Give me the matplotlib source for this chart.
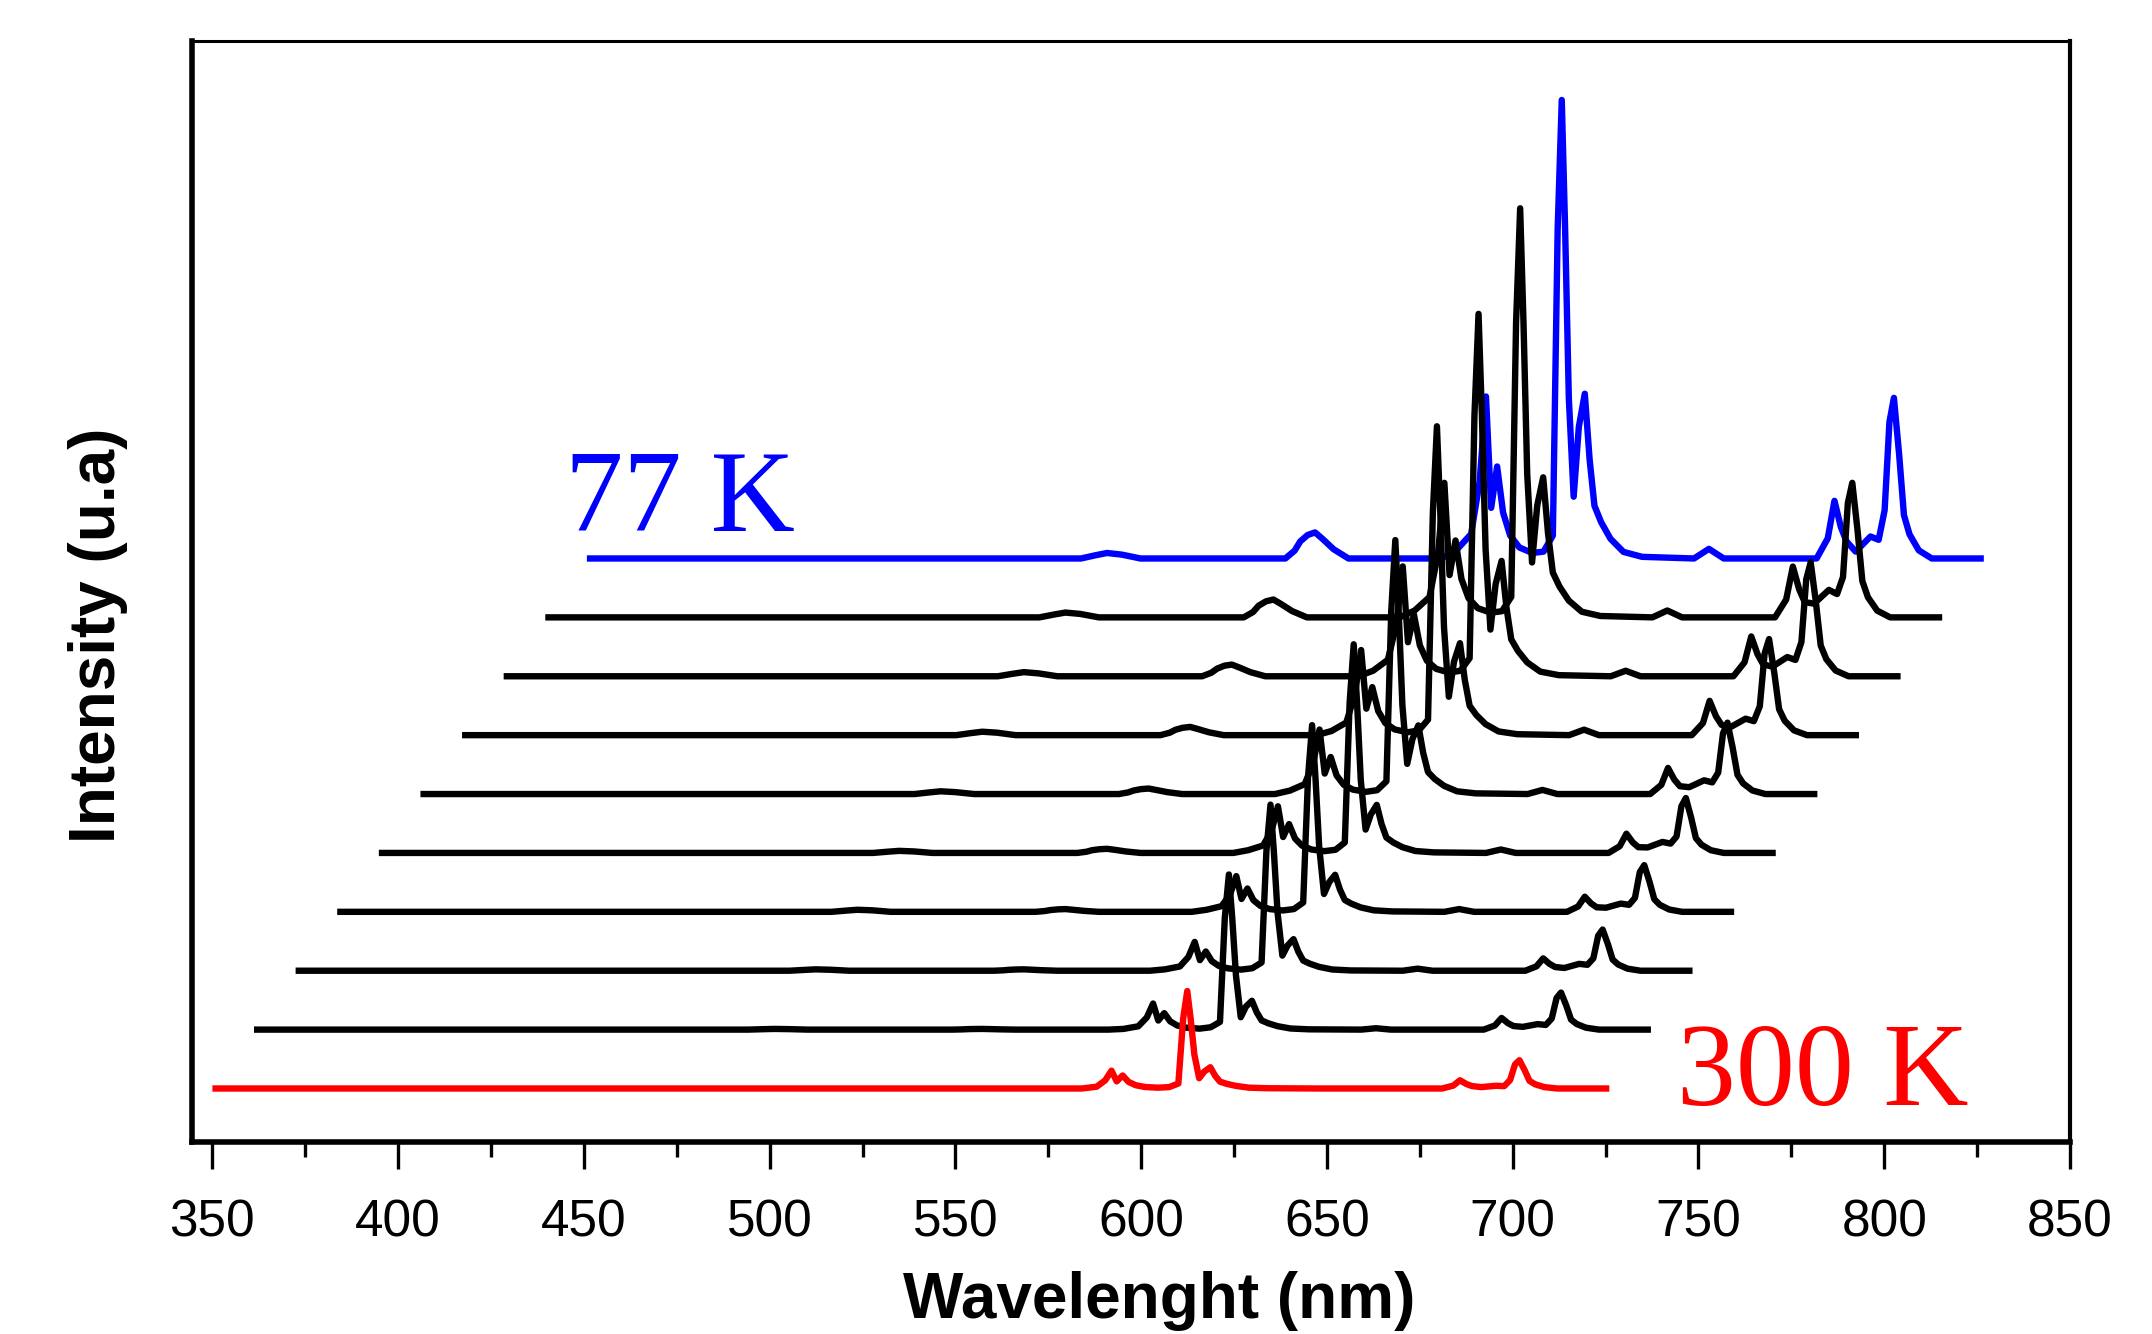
import matplotlib
matplotlib.use("Agg")
import matplotlib.pyplot as plt
from matplotlib.ticker import MultipleLocator

# ---------------- data ----------------
# key wavelengths of the 300 K spectrum (nm); each colder spectrum is drawn
# shifted right by x_shift_nm and up by y_step (waterfall layout)
wl_key = [350,
          483, 487, 490, 494, 499,
          538, 540.5, 542, 544, 546, 548, 551, 555,
          580, 584, 588, 590.3, 592, 593.4, 595, 596.6, 598.5, 601, 604.5,
          607.5, 610, 611.3, 612.4, 613.3, 614.3, 615.6, 617, 618.6, 619.9,
          621.2, 623, 625.5, 629, 634,
          648, 652, 656,
          681, 684, 685.8, 687.5, 689, 691.5, 695.5, 697.7, 699.3, 700.6,
          701.8, 703.2, 704.5, 706, 708.5, 712, 726]

I_300K = [0,
          0, 0, 0, 0, 0,
          0, 0, 0, 0, 0, 0, 0, 0,
          0, 0, 1.3, 5.9, 13, 5.2, 9.5, 4.8, 2.4, 1.1, 0.6,
          1, 3.6, 51.1, 71, 51.1, 24.9, 7.5, 12.4, 15.5, 9.3, 5, 3.4, 1.9, 0.6, 0.2,
          0, 0, 0,
          0, 2.1, 6, 3.3, 1.8, 1, 2, 1.7, 6.2, 17.5, 20.6, 13.4, 5.6, 3.1, 1, 0, 0]
I_T1 = [0,
        0, 0.3, 0.5, 0.35, 0,
        0, 0.15, 0.33, 0.45, 0.5, 0.38, 0.18, 0,
        0, 0.5, 2.4, 8.8, 19, 6.6, 12, 6, 3, 1.4, 0.7,
        1.7, 5.6, 81.4, 113, 81.4, 39.6, 9, 16.8, 21, 12.6, 6.7, 4.6, 2.5, 0.8, 0.2,
        0, 1, 0,
        0, 3, 8.5, 4.7, 2.6, 2, 4, 3.4, 8.1, 23, 27, 17.6, 7.3, 4.1, 1.4, 0, 0]
I_T2 = [0,
        0, 0.6, 1, 0.7, 0,
        0, 0.3, 0.65, 0.9, 1, 0.75, 0.35, 0,
        0, 1, 3.1, 10, 21, 7.7, 14, 7, 3.5, 1.7, 0.8,
        1.8, 6, 87.1, 121, 87.1, 42.4, 11, 18.4, 23, 13.8, 7.4, 5.1, 2.8, 0.9, 0.2,
        0, 1.5, 0,
        0, 3.2, 9, 5, 2.7, 2, 5, 4.3, 9, 25.5, 30, 19.5, 8.1, 4.5, 1.5, 0, 0]
I_T3 = [0,
        0, 0.9, 1.5, 1.1, 0,
        0, 0.6, 1.3, 1.8, 2, 1.5, 0.7, 0,
        0, 1.5, 4.1, 12.5, 26, 9.4, 17, 8.5, 4.3, 2, 1,
        2, 6.8, 97.9, 136, 97.9, 47.6, 13, 21.6, 27, 16.2, 8.6, 5.9, 3.2, 1.1, 0.3,
        0, 2, 0,
        0, 3.9, 11, 6.1, 3.3, 3, 6, 5.1, 10.2, 28.9, 34, 22.1, 9.2, 5.1, 1.7, 0, 0]
I_T4 = [0,
        0, 0.9, 1.5, 1.1, 0,
        0, 0.9, 2, 2.7, 3, 2.3, 1.1, 0,
        0, 2, 5.4, 16.3, 34, 11.6, 21, 10.5, 5.3, 2.5, 1.3,
        2.3, 7.6, 109.4, 152, 109.4, 53.2, 17, 28, 35, 21, 11.2, 7.7, 4.2, 1.4, 0.4,
        0, 2.5, 0,
        0, 4.9, 14, 7.7, 4.2, 4, 8, 6.8, 12, 34, 40, 26, 10.8, 6, 2, 0, 0]
I_T5 = [0,
        0, 1.2, 2, 1.4, 0,
        0, 1.2, 2.6, 3.6, 4, 3, 1.4, 0,
        0, 2.5, 7.2, 22.4, 47, 14.9, 27, 13.5, 6.8, 3.2, 1.6,
        2.8, 9.3, 133.2, 185, 133.2, 64.8, 22, 40, 50, 30, 16, 11, 6, 2, 0.5,
        0, 3, 0,
        0, 6.7, 19, 10.5, 5.7, 5, 10, 8.5, 15.6, 44.2, 52, 33.8, 14, 7.8, 2.6, 0, 0]
I_T6 = [0,
        0, 1.5, 2.5, 1.8, 0,
        0, 1.8, 3.9, 5.4, 6, 4.5, 2.1, 0,
        0, 3, 9.2, 29.4, 62, 19.3, 35, 17.5, 8.8, 4.2, 2.1,
        3.4, 11.3, 162, 225, 162, 78.8, 28, 53.6, 67, 40.2, 21.4, 14.7, 8, 2.7, 0.7,
        0, 4, 0,
        0, 8.8, 25, 13.8, 7.5, 6, 12, 10.2, 21, 59.5, 70, 45.5, 18.9, 10.5, 3.5, 0, 0]
I_T7 = [0,
        0, 1.8, 3, 2.1, 0,
        0, 2.6, 5.5, 7.7, 8.5, 6.4, 3, 0,
        0, 4, 12, 38, 80, 24.8, 45, 22.5, 11.3, 5.4, 2.7,
        4, 13.2, 190.1, 264, 190.1, 92.4, 34, 67.2, 84, 50.4, 26.9, 18.5, 10.1, 3.4, 0.8,
        0, 4, 0,
        0, 10.2, 29, 16, 8.7, 7, 14, 11.9, 24.9, 70.6, 83, 54, 22.4, 12.5, 4.2, 0, 0]
I_T8 = [0,
        0, 2.1, 3.5, 2.5, 0,
        0, 3.9, 8.5, 11.7, 13, 9.8, 4.6, 0,
        0, 5, 14.8, 46.6, 98, 30.8, 56, 28, 14, 6.7, 3.4,
        4.5, 14.9, 214.6, 298, 214.6, 104.3, 40, 81.6, 102, 61.2, 32.6, 22.4, 12.2, 4.1, 1,
        0, 5, 0,
        0, 13, 37, 20.4, 11.1, 10, 20, 17, 29.4, 83.3, 98, 63.7, 26.5, 14.7, 4.9, 0, 0]
I_77K = [0,
         0, 2.4, 4, 2.8, 0,
         0, 5.7, 12.4, 17.1, 19, 14.3, 6.7, 0,
         0, 6, 17.8, 56, 118, 36.9, 67, 33.5, 16.8, 8, 4,
         5, 16.7, 240.5, 334, 240.5, 116.9, 45, 96, 120, 72, 38.4, 26.4, 14.4, 4.8, 1.2,
         0, 7, 0,
         0, 14.7, 42, 23.1, 12.6, 5, 16, 13.6, 35.1, 99.5, 117, 76, 31.6, 17.6, 5.9, 0, 0]

spectra = [I_300K, I_T1, I_T2, I_T3, I_T4, I_T5, I_T6, I_T7, I_T8, I_77K]
line_colors = ["red"] + ["black"] * 8 + ["blue"]
x_shift_nm = 11.2   # horizontal offset between successive spectra
y_step = 42.9       # vertical offset between successive spectra

x_ticks = [350, 400, 450, 500, 550, 600, 650, 700, 750, 800, 850]

# ---------------- figure ----------------
fig = plt.figure(figsize=(21.52, 13.34), dpi=100)
ax = fig.add_axes([0.0892, 0.1439, 0.8727, 0.8253])

n = len(spectra)
for i in range(n - 1, -1, -1):
    xs = [w + x_shift_nm * i for w in wl_key]
    ys = [v + y_step * i for v in spectra[i]]
    z = 3 if i == 0 else (1 if i == n - 1 else 2)
    ax.plot(xs, ys, color=line_colors[i], lw=4.6, solid_joinstyle="round",
            solid_capstyle="butt", zorder=z)

ax.set_xlim(344.5, 850)
ax.set_ylim(-39, 763)

ax.text(744.3, -12, "300 K", color="red", fontsize=85,
        family="Liberation Serif", ha="left", va="baseline")
ax.text(445, 406, "77 K", color="blue", fontsize=84,
        family="Liberation Serif", ha="left", va="baseline")

ax.set_xticks(x_ticks)
ax.xaxis.set_minor_locator(MultipleLocator(25))
ax.tick_params(axis="x", which="major", direction="out", length=19.5,
               width=2.4, pad=21, labelsize=37)
ax.tick_params(axis="x", which="minor", direction="out", length=11,
               width=2.4)
for lab in ax.get_xticklabels():
    lab.set_family("Liberation Sans")
ax.set_yticks([])

ax.spines["left"].set_linewidth(4)
ax.spines["bottom"].set_linewidth(4)
ax.spines["right"].set_linewidth(3)
ax.spines["top"].set_linewidth(2.2)

ax.set_xlabel("Wavelenght (nm)", fontsize=46, fontweight="bold",
              family="Liberation Sans")
ax.xaxis.set_label_coords(0.515, -0.117)
ax.set_ylabel("Intensity (u.a)", fontsize=46, fontweight="bold",
              family="Liberation Sans")
ax.yaxis.set_label_coords(-0.034, 0.46)

fig.savefig("out.png", dpi=100)
